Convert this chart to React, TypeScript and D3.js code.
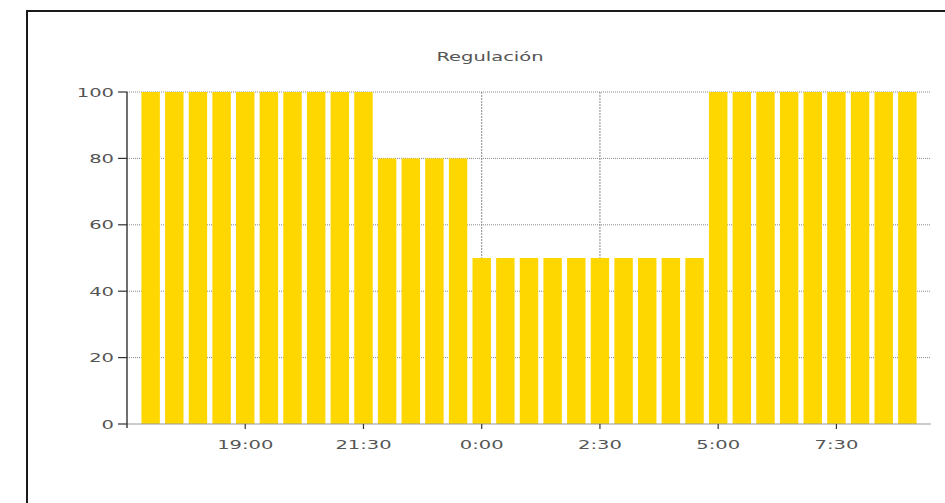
import React from 'react';
import * as d3 from 'd3';

// half-hourly regulation values, 17:00 .. 9:00
const startTime = new Date(2024, 0, 1, 17, 0);
const regulation = [
  100, 100, 100, 100, 100, 100, 100, 100, 100, 100,
  80, 80, 80, 80,
  50, 50, 50, 50, 50, 50, 50, 50, 50, 50,
  100, 100, 100, 100, 100, 100, 100, 100, 100,
];
const yTicks = [0, 20, 40, 60, 80, 100];
const xTickLabels = ['19:00', '21:30', '0:00', '2:30', '5:00', '7:30'];
const title = 'Regulación';

const width = 945;
const height = 503;
const margin = { top: 92, right: 14, bottom: 79, left: 127 };
const textScale = 1.5;
const fontFamily = 'DejaVu Sans, sans-serif';

const App: React.FC = () => {
  const halfHour = 30 * 60 * 1000;
  const times = regulation.map((_, i) => new Date(startTime.getTime() + i * halfHour));

  const x = d3.scaleTime()
    .domain([d3.timeMinute.offset(times[0], -30), d3.timeMinute.offset(times[times.length - 1], 30)])
    .range([margin.left, width - margin.right]);

  const y = d3.scaleLinear()
    .domain([0, 100])
    .range([height - margin.bottom, margin.top]);

  // ticks every 2.5 hours starting at 19:00
  const xTicks = xTickLabels.map((_, i) => d3.timeMinute.offset(times[4], i * 150));

  const barW = (x(times[1]) - x(times[0])) * 0.78;
  const x0 = margin.left;
  const x1 = width - margin.right;
  const yBase = y(0);
  const yTop = y(100);

  return (
    <svg width={width} height={height} style={{ position: 'absolute', left: 0, top: 0, background: '#fff' }}>
      {/* frame (cropped box, only left and top visible) */}
      <path d={`M27,${height} L27,11 L${width},11`} fill="none" stroke="#1a1a1a" strokeWidth={2} />

      <text
        transform={`translate(490,61) scale(${textScale},1)`}
        textAnchor="middle" fontFamily={fontFamily} fontSize={13} fill="#555">
        {title}
      </text>

      {/* horizontal grid */}
      {yTicks.filter(t => t > 0).map(t => (
        <line key={`h${t}`} x1={x0} x2={x1} y1={y(t)} y2={y(t)}
          stroke="#888" strokeWidth={1} strokeDasharray="1,1" />
      ))}
      {/* vertical grid */}
      {xTicks.map((t, i) => (
        <line key={`v${i}`} x1={x(t)} x2={x(t)} y1={yTop} y2={yBase}
          stroke="#888" strokeWidth={1} strokeDasharray="2,1" />
      ))}

      {regulation.map((v, i) => (
        <rect key={i} x={x(times[i]) - barW / 2} y={y(v)} width={barW} height={yBase - y(v)} fill="#FFD700" />
      ))}

      {/* x axis */}
      <line x1={x0} x2={x1} y1={yBase} y2={yBase} stroke="#999" strokeWidth={1.2} />
      {xTicks.map((t, i) => (
        <g key={`xt${i}`}>
          <line x1={x(t)} x2={x(t)} y1={yBase} y2={yBase + 5} stroke="#333" strokeWidth={1.2} />
          <text transform={`translate(${x(t)},${yBase + 25}) scale(${textScale},1)`}
            textAnchor="middle" fontFamily={fontFamily} fontSize={13} fill="#555">
            {xTickLabels[i]}
          </text>
        </g>
      ))}

      {/* y axis */}
      <line x1={x0} x2={x0} y1={yTop} y2={yBase + 4} stroke="#333" strokeWidth={1.4} />
      {yTicks.map(t => (
        <g key={`yt${t}`}>
          <line x1={x0 - 9} x2={x0} y1={y(t)} y2={y(t)} stroke="#333" strokeWidth={1.2} />
          <text transform={`translate(${x0 - 13},${y(t) + 4.5}) scale(${textScale},1)`}
            textAnchor="end" fontFamily={fontFamily} fontSize={13} fill="#555">
            {t}
          </text>
        </g>
      ))}
    </svg>
  );
};

export default App;
